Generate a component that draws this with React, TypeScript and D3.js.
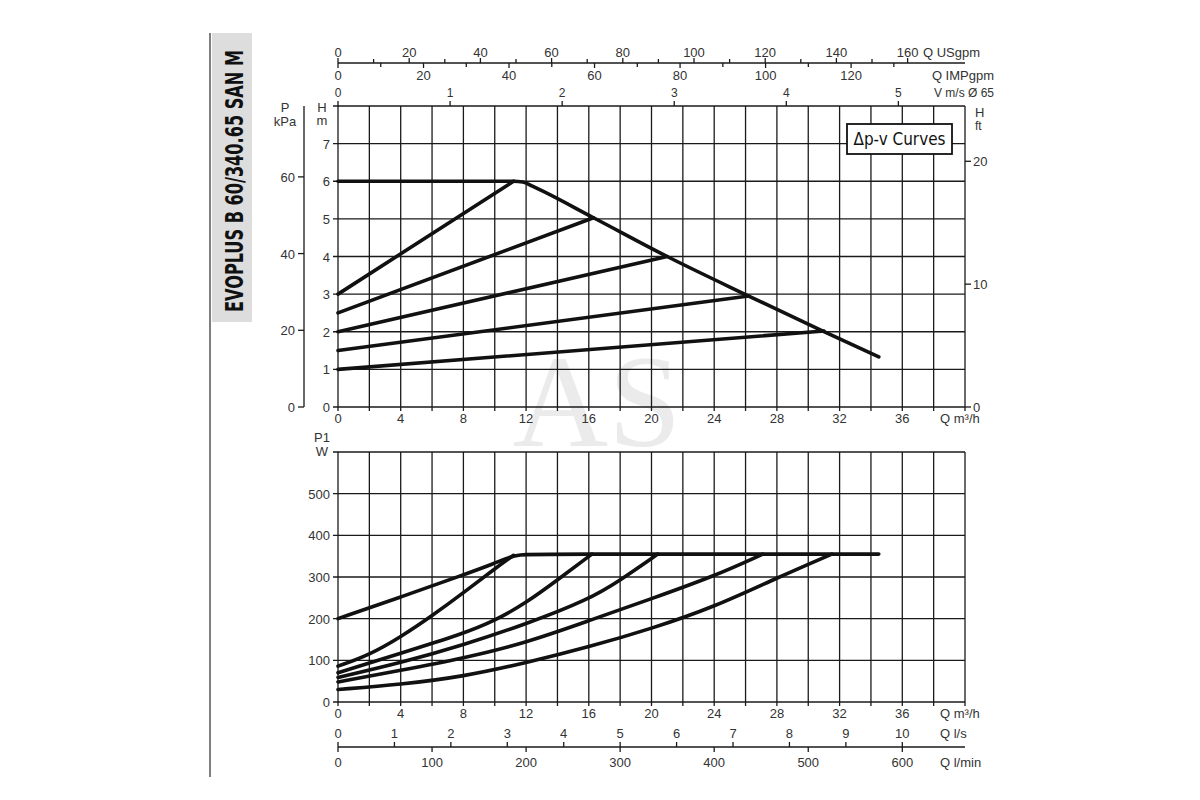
import { useRef, useEffect } from "react";
import * as d3 from "d3";

type Pt = [number, number];

// flow axis (m3/h)
const qTicks = [0, 4, 8, 12, 16, 20, 24, 28, 32, 36];
const usgpmTicks = [0, 20, 40, 60, 80, 100, 120, 140, 160];
const impTicks = [0, 20, 40, 60, 80, 100, 120];
const velTicks = [0, 1, 2, 3, 4, 5];
const lsTicks = [0, 1, 2, 3, 4, 5, 6, 7, 8, 9, 10];
const lminTicks = [0, 100, 200, 300, 400, 500, 600];

// head / pressure / power axes
const hTicks = [0, 1, 2, 3, 4, 5, 6, 7];
const kpaTicks = [0, 20, 40, 60];
const ftTicks = [0, 10, 20];
const wTicks = [0, 100, 200, 300, 400, 500];

// head curves H (m) vs Q (m3/h)
const headMax: Pt[] = [[0, 6], [11.2, 6], [11.8, 5.98], [12.4, 5.87], [16.3, 5.03], [21, 4.0], [26.2, 2.95], [30.9, 2.02], [34.5, 1.33]];
const headSettings: Pt[][] = [
  [[0, 3], [11.2, 6]],
  [[0, 2.5], [16.3, 5.03]],
  [[0, 2], [21, 4]],
  [[0, 1.5], [26.2, 2.95]],
  [[0, 1], [31, 2.02]],
];

// power curves P1 (W) vs Q (m3/h)
const powerMax: Pt[] = [[0, 200], [4, 252], [8, 305], [10, 333], [10.9, 347], [11.6, 354], [12.5, 355], [34.5, 355]];
const powerSettings: Pt[][] = [
  [[0, 86], [2, 113], [4, 156], [6, 207], [8, 262], [10, 320], [11.2, 352]],
  [[0, 70], [4, 117], [8, 164], [10, 195], [12, 238], [14, 293], [16.2, 355]],
  [[0, 59], [4, 94], [8, 137], [12, 187], [16, 246], [18, 292], [20.4, 355]],
  [[0, 48], [4, 76], [8, 105], [12, 142], [16, 195], [20, 248], [24, 302], [27.1, 355]],
  [[0, 30], [4, 42], [8, 61], [12, 94], [16, 132], [20, 176], [24, 228], [28, 298], [31.5, 355]],
];

export default function App() {
  const svgRef = useRef<SVGSVGElement>(null);

  useEffect(() => {
    if (!svgRef.current) return;
    const svg = d3.select(svgRef.current);
    svg.selectAll("*").remove();

    const font = "'Liberation Sans', Arial, sans-serif";
    const narrow = "'Liberation Sans Narrow', 'DejaVu Sans Condensed', 'Liberation Sans', sans-serif";
    const textCol = "#333";
    const lineCol = "#1a1a1a";

    const x = d3.scaleLinear().domain([0, 40]).range([338, 965]);
    const yH = d3.scaleLinear().domain([0, 8]).range([407, 106]);
    const yW = d3.scaleLinear().domain([0, 600]).range([702, 452]);
    const yKpa = d3.scaleLinear().domain([0, 8 * 9.81]).range([407, 106]);
    const yFt = d3.scaleLinear().domain([0, 24.5]).range([407, 106]);

    const xUs = d3.scaleLinear().domain([0, 40 * 4.403]).range([338, 965]);
    const xImp = d3.scaleLinear().domain([0, 40 * 3.666]).range([338, 965]);
    const xVel = d3.scaleLinear().domain([0, 40 / 7.15]).range([338, 965]);
    const xLs = d3.scaleLinear().domain([0, 40 / 3.6]).range([338, 965]);
    const xLmin = d3.scaleLinear().domain([0, (40 / 3.6) * 60]).range([338, 965]);

    const label = (
      tx: number,
      ty: number,
      s: string,
      anchor = "middle",
      size = 13
    ) =>
      svg
        .append("text")
        .attr("x", tx)
        .attr("y", ty)
        .attr("text-anchor", anchor)
        .attr("font-family", font)
        .attr("font-size", size)
        .attr("fill", textCol)
        .text(s);

    // Watermark
    svg
      .append("text")
      .attr("x", 597)
      .attr("y", 446)
      .attr("text-anchor", "middle")
      .attr("font-family", "'Liberation Serif', 'DejaVu Serif', serif")
      .attr("font-size", 132)
      .attr("fill", "#ebebeb")
      .text("AS");

    // Title strip
    svg.append("line").attr("x1", 210).attr("x2", 210).attr("y1", 33).attr("y2", 777)
      .attr("stroke", "#555").attr("stroke-width", 1.5);
    svg.append("rect").attr("x", 212).attr("y", 33).attr("width", 40).attr("height", 289)
      .attr("fill", "#dddddd");
    svg
      .append("text")
      .attr("transform", "translate(243,181) rotate(-90)")
      .attr("text-anchor", "middle")
      .attr("font-family", narrow)
      .attr("font-weight", "bold")
      .attr("font-size", 24)
      .attr("textLength", 262)
      .attr("lengthAdjust", "spacingAndGlyphs")
      .attr("fill", "#111")
      .text("EVOPLUS B 60/340.65 SAN M");

    const xGrid = d3.range(0, 42, 2);

    const drawGrid = (yTop: number, yBot: number, yVals: number[]) => {
      const g = svg.append("g").attr("stroke", lineCol).attr("stroke-width", 1.3);
      g.selectAll("line.v")
        .data(xGrid)
        .join("line")
        .attr("x1", (d) => x(d))
        .attr("x2", (d) => x(d))
        .attr("y1", yTop)
        .attr("y2", yBot + 4);
      g.selectAll("line.h")
        .data(yVals)
        .join("line")
        .attr("x1", 333)
        .attr("x2", 965)
        .attr("y1", (d) => d)
        .attr("y2", (d) => d);
    };

    // Upper chart grid
    drawGrid(106, 407, d3.range(0, 9).map((d) => yH(d)));
    // Lower chart grid
    drawGrid(452, 702, d3.range(0, 700, 100).map((d) => yW(d)));

    // Upper left: H m labels
    hTicks.forEach((d) => label(330, yH(d) + 5, String(d), "end"));
    label(322, 112, "H");
    label(322, 125, "m");

    // kPa axis
    svg.append("line").attr("x1", 304).attr("x2", 304).attr("y1", 106).attr("y2", 407)
      .attr("stroke", lineCol).attr("stroke-width", 1.3);
    kpaTicks.forEach((d) => {
      svg.append("line").attr("x1", 298).attr("x2", 304).attr("y1", yKpa(d)).attr("y2", yKpa(d))
        .attr("stroke", lineCol).attr("stroke-width", 1.3);
      label(295, yKpa(d) + 5, String(d), "end");
    });
    label(285, 112, "P");
    label(285, 126, "kPa");

    // ft axis
    ftTicks.forEach((d) => {
      svg.append("line").attr("x1", 965).attr("x2", 971).attr("y1", yFt(d)).attr("y2", yFt(d))
        .attr("stroke", lineCol).attr("stroke-width", 1.3);
      label(973, yFt(d) + 5, String(d), "start");
    });
    label(975, 117, "H", "start");
    label(975, 130, "ft", "start", 12);

    // Q m3/h labels under both charts
    qTicks.forEach((d) => {
      label(x(d), 423, String(d));
      label(x(d), 718, String(d));
    });
    label(940, 423, "Q m³/h", "start");
    label(940, 718, "Q m³/h", "start");

    // Top axes: USgpm / IMPgpm
    svg.append("line").attr("x1", 338).attr("x2", 965).attr("y1", 63).attr("y2", 63)
      .attr("stroke", lineCol).attr("stroke-width", 1.3);
    d3.range(0, 170, 10).forEach((d) => {
      svg.append("line").attr("x1", xUs(d)).attr("x2", xUs(d)).attr("y1", 63).attr("y2", d % 20 === 0 ? 58 : 59)
        .attr("stroke", lineCol).attr("stroke-width", 1.3);
    });
    d3.range(0, 140, 10).forEach((d) => {
      svg.append("line").attr("x1", xImp(d)).attr("x2", xImp(d)).attr("y1", 63).attr("y2", d % 20 === 0 ? 68 : 67)
        .attr("stroke", lineCol).attr("stroke-width", 1.3);
    });
    usgpmTicks.forEach((d) => label(xUs(d), 57, String(d)));
    label(923, 57, "Q USgpm", "start");
    impTicks.forEach((d) => label(xImp(d), 80, String(d)));
    label(994, 80, "Q IMPgpm", "end");

    // Velocity
    velTicks.forEach((d) => {
      svg.append("line").attr("x1", xVel(d)).attr("x2", xVel(d)).attr("y1", 101).attr("y2", 106)
        .attr("stroke", lineCol).attr("stroke-width", 1.3);
      label(xVel(d), 97, String(d), "middle", 12);
    });
    label(994, 97, "V m/s Ø 65", "end", 12);

    // Lower left: P1 W labels
    wTicks.forEach((d) => label(330, yW(d) + 5, String(d), "end"));
    label(322, 442, "P1");
    label(322, 456, "W");

    // Bottom axes: l/s and l/min
    svg.append("line").attr("x1", 338).attr("x2", 965).attr("y1", 747).attr("y2", 747)
      .attr("stroke", lineCol).attr("stroke-width", 1.3);
    lsTicks.forEach((d) => {
      svg.append("line").attr("x1", xLs(d)).attr("x2", xLs(d)).attr("y1", 742).attr("y2", 747)
        .attr("stroke", lineCol).attr("stroke-width", 1.3);
      label(xLs(d), 738, String(d));
    });
    lminTicks.forEach((d) => {
      svg.append("line").attr("x1", xLmin(d)).attr("x2", xLmin(d)).attr("y1", 747).attr("y2", 752)
        .attr("stroke", lineCol).attr("stroke-width", 1.3);
      label(xLmin(d), 767, String(d));
    });
    label(940, 738, "Q l/s", "start");
    label(940, 767, "Q l/min", "start");

    // Curves
    const headLine = d3.line<Pt>().x((d) => x(d[0])).y((d) => yH(d[1])).curve(d3.curveMonotoneX);
    const powerLine = d3.line<Pt>().x((d) => x(d[0])).y((d) => yW(d[1])).curve(d3.curveBasis);

    const curves = svg.append("g").attr("fill", "none").attr("stroke", "#111")
      .attr("stroke-width", 3.6).attr("stroke-linecap", "round").attr("stroke-linejoin", "round");
    curves.append("path").attr("d", headLine(headMax));
    headSettings.forEach((c) => curves.append("path").attr("d", headLine(c)));
    curves.append("path").attr("d", powerLine(powerMax));
    powerSettings.forEach((c) => curves.append("path").attr("d", powerLine(c)));

    // Legend box
    svg.append("rect").attr("x", 847).attr("y", 124).attr("width", 105).attr("height", 30)
      .attr("fill", "#fff").attr("stroke", "#111").attr("stroke-width", 1.8);
    svg
      .append("text")
      .attr("x", 899.5)
      .attr("y", 145)
      .attr("text-anchor", "middle")
      .attr("font-family", narrow)
      .attr("font-size", 17)
      .attr("textLength", 92)
      .attr("lengthAdjust", "spacingAndGlyphs")
      .attr("fill", "#111")
      .text("Δp-v Curves");
  }, []);

  return (
    <svg
      ref={svgRef}
      width={1200}
      height={800}
      viewBox="0 0 1200 800"
      style={{ position: "absolute", left: 0, top: 0, display: "block", background: "#fff" }}
    />
  );
}
